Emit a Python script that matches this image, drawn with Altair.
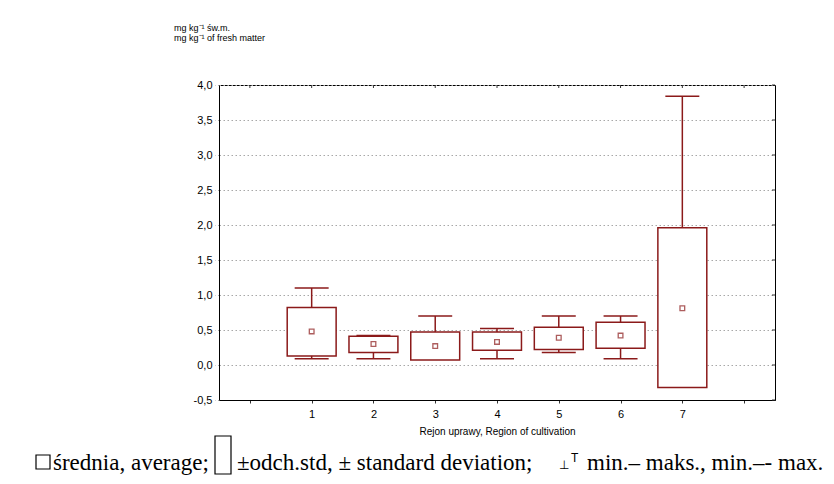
import altair as alt
import pandas as pd

# ---- data ----
regions = [1, 2, 3, 4, 5, 6, 7]
means = [0.48, 0.30, 0.27, 0.33, 0.39, 0.42, 0.81]
sd_lo = [0.13, 0.18, 0.07, 0.21, 0.22, 0.24, -0.32]
sd_hi = [0.82, 0.41, 0.47, 0.47, 0.54, 0.61, 1.96]
mins = [0.09, 0.09, 0.07, 0.09, 0.18, 0.09, 0.10]
maxs = [1.10, 0.42, 0.70, 0.52, 0.70, 0.70, 3.84]
x_ticks = [0, 1, 2, 3, 4, 5, 6, 7, 8]
y_ticks = [-0.5, 0.0, 0.5, 1.0, 1.5, 2.0, 2.5, 3.0, 3.5, 4.0]

df = pd.DataFrame(dict(region=regions, mean=means, lo=sd_lo, hi=sd_hi, mn=mins, mx=maxs))
xt = pd.DataFrame(dict(t=x_ticks))
yt = pd.DataFrame(dict(v=y_ticks))

RED = "#8b1a1a"
W, H = 556, 315
SANS = "Liberation Sans"
SERIF = "Liberation Serif"

xs = alt.Scale(domain=[-0.5, 8.5], nice=False, zero=False)
ys = alt.Scale(domain=[-0.5, 4.0], nice=False, zero=False)

x_axis = alt.Axis(
    values=x_ticks,
    labelExpr="datum.value >= 1 && datum.value <= 7 ? datum.value : ''",
    title="Rejon uprawy, Region of cultivation",
    grid=False, domainColor="black", tickColor="#333", tickSize=3,
    labelFont=SANS, labelFontSize=11, labelColor="black", labelPadding=5,
    titleFont=SANS, titleFontSize=10, titleFontWeight="normal", titleColor="black",
    titlePadding=7,
)
y_axis = alt.Axis(
    values=y_ticks,
    labelExpr="replace(replace(format(datum.value, '.1f'), '.', ','), '\u2212', '-')",
    title=None,
    grid=True, gridDash=[1.5, 2.5], gridColor="#a8a8a8", gridWidth=1,
    domainColor="black", tickColor="#aaa", tickSize=4, tickDash=[1.5, 2],
    labelFont=SANS, labelFontSize=11, labelColor="black", labelPadding=3,
)

base = alt.Chart(df)

box = base.transform_calculate(
    bx1="datum.region - 0.396", bx2="datum.region + 0.396"
).mark_rect(fill="white", stroke=RED, strokeWidth=1.5).encode(
    x=alt.X("bx1:Q", scale=xs, axis=x_axis), x2="bx2:Q",
    y=alt.Y("lo:Q", scale=ys, axis=y_axis), y2="hi:Q",
)

whisk_up = base.mark_rule(color=RED, strokeWidth=1.5).encode(
    x=alt.X("region:Q", scale=xs, axis=x_axis),
    y=alt.Y("hi:Q", scale=ys, axis=y_axis), y2="mx:Q",
)
whisk_dn = base.transform_filter("datum.mn < datum.lo").mark_rule(color=RED, strokeWidth=1.5).encode(
    x=alt.X("region:Q", scale=xs, axis=x_axis),
    y=alt.Y("mn:Q", scale=ys, axis=y_axis), y2="lo:Q",
)
cap_up = base.transform_calculate(
    cx1="datum.region - 0.275", cx2="datum.region + 0.275"
).mark_rule(color=RED, strokeWidth=1.5).encode(
    x=alt.X("cx1:Q", scale=xs, axis=x_axis), x2="cx2:Q",
    y=alt.Y("mx:Q", scale=ys, axis=y_axis),
)
cap_dn = base.transform_filter("datum.mn < datum.lo").transform_calculate(
    cx1="datum.region - 0.275", cx2="datum.region + 0.275"
).mark_rule(color=RED, strokeWidth=1.5).encode(
    x=alt.X("cx1:Q", scale=xs, axis=x_axis), x2="cx2:Q",
    y=alt.Y("mn:Q", scale=ys, axis=y_axis),
)
mean_pt = base.mark_square(size=22, filled=False, color=RED, strokeWidth=1.3).encode(
    x=alt.X("region:Q", scale=xs, axis=x_axis),
    y=alt.Y("mean:Q", scale=ys, axis=y_axis),
)

# inward frame ticks (top and right)
top_ticks = alt.Chart(xt).mark_rule(color="#333", strokeWidth=1).encode(
    x=alt.X("t:Q", scale=xs, axis=x_axis), y=alt.value(0), y2=alt.value(3),
)
right_ticks = alt.Chart(yt).mark_rule(color="#333", strokeWidth=1).encode(
    y=alt.Y("v:Q", scale=ys, axis=y_axis), x=alt.value(W - 3), x2=alt.value(W),
)

one = pd.DataFrame({"a": [0]})


def txt(s, x, y, font=SANS, size=9):
    return alt.Chart(one).mark_text(
        align="left", baseline="alphabetic", font=font, fontSize=size, color="black"
    ).encode(x=alt.value(x), y=alt.value(y), text=alt.value(s))


unit1 = txt("mg kg\u207b\u00b9 św.m.", -45, -54)
unit2 = txt("mg kg\u207b\u00b9 of fresh matter", -45, -44)

# bottom legend (serif line)
LEG_Y = 385
LEG_F = 23
leg_sq = alt.Chart(one).mark_rect(fill="white", stroke="black", strokeWidth=1.2).encode(
    x=alt.value(-183), x2=alt.value(-169), y=alt.value(LEG_Y - 15), y2=alt.value(LEG_Y - 1)
)
leg_t1 = txt("średnia, average;", -166, LEG_Y, font=SERIF, size=LEG_F)
leg_box = alt.Chart(one).mark_rect(fill="white", stroke="black", strokeWidth=1.2).encode(
    x=alt.value(-4), x2=alt.value(12), y=alt.value(LEG_Y - 34), y2=alt.value(LEG_Y + 4)
)
leg_t2 = txt("±odch.std, ± standard deviation;", 18, LEG_Y, font=SERIF, size=LEG_F)
leg_s1 = txt("\u22a5", 340, LEG_Y - 1, font="DejaVu Sans", size=12)
leg_s2 = txt("T", 352, LEG_Y - 8, font=SANS, size=12)
leg_t3 = txt("min.– maks., min.–- max.", 368, LEG_Y, font=SERIF, size=LEG_F)

chart = alt.layer(
    box, whisk_up, whisk_dn, cap_up, cap_dn, mean_pt, top_ticks, right_ticks,
    unit1, unit2, leg_sq, leg_t1, leg_box, leg_t2, leg_s1, leg_s2, leg_t3,
).properties(
    width=W, height=H,
    autosize=alt.AutoSizeParams(type="none"),
    padding={"left": 211, "top": 77, "right": 51, "bottom": 76},
    background="white",
).configure_view(stroke="black", strokeWidth=1)

chart.save("out.html", embed_options={"renderer": "svg", "actions": False})
